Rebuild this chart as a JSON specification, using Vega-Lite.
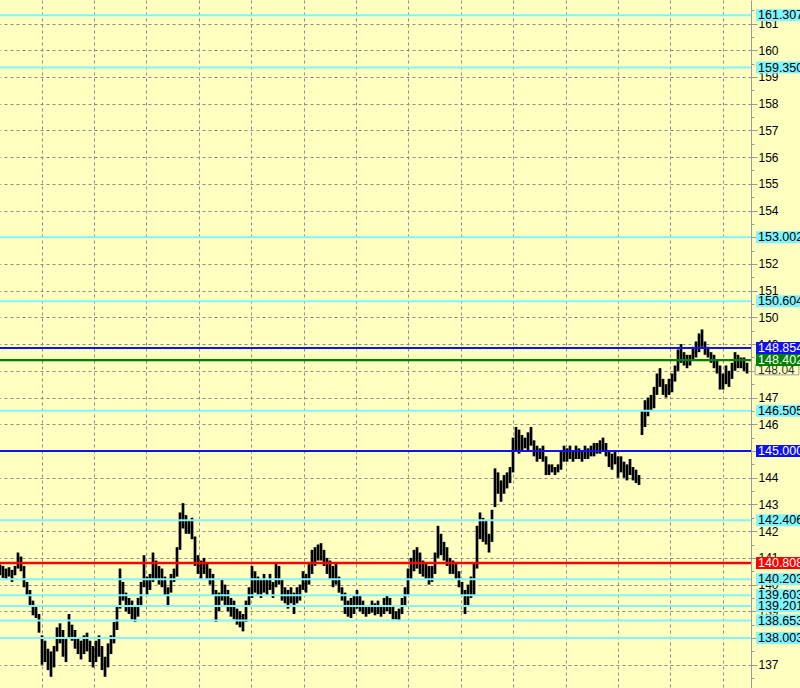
{
  "$schema": "https://vega.github.io/schema/vega-lite/v6.json",
  "autosize": {"type": "none"},
  "width": 751,
  "height": 688,
  "padding": {"left": 0, "top": 0, "right": 49, "bottom": 0},
  "background": "#FFFFC0",
  "config": {"view": {"stroke": null}, "font": "Liberation Sans"},
  "datasets": {
    "bars": [
      {"i":0,"h":140.75,"l":140.35},{"i":1,"h":140.70,"l":140.25},{"i":2,"h":140.60,"l":140.20},{"i":3,"h":140.65,"l":140.30},{"i":4,"h":140.55,"l":140.10},
      {"i":5,"h":140.70,"l":140.35},{"i":6,"h":141.20,"l":140.60},{"i":7,"h":141.05,"l":140.50},{"i":8,"h":140.70,"l":139.90},{"i":9,"h":140.10,"l":139.60},
      {"i":10,"h":139.80,"l":139.20},{"i":11,"h":139.40,"l":138.85},{"i":12,"h":139.20,"l":138.75},{"i":13,"h":138.90,"l":138.20},{"i":14,"h":138.10,"l":137.00},
      {"i":15,"h":137.90,"l":137.10},{"i":16,"h":137.60,"l":136.80},{"i":17,"h":137.50,"l":136.55},{"i":18,"h":137.70,"l":136.90},{"i":19,"h":138.40,"l":137.50},
      {"i":20,"h":138.55,"l":137.80},{"i":21,"h":138.30,"l":137.30},{"i":22,"h":138.00,"l":137.10},{"i":23,"h":138.90,"l":138.00},{"i":24,"h":138.50,"l":137.90},
      {"i":25,"h":138.30,"l":137.60},{"i":26,"h":138.00,"l":137.40},{"i":27,"h":137.90,"l":137.20},{"i":28,"h":138.10,"l":137.40},{"i":29,"h":138.20,"l":137.50},
      {"i":30,"h":137.90,"l":137.10},{"i":31,"h":137.70,"l":136.90},{"i":32,"h":137.90,"l":137.10},{"i":33,"h":138.10,"l":137.30},{"i":34,"h":137.70,"l":136.80},
      {"i":35,"h":137.30,"l":136.55},{"i":36,"h":137.80,"l":136.90},{"i":37,"h":138.10,"l":137.40},{"i":38,"h":138.60,"l":137.80},{"i":39,"h":139.20,"l":138.30},
      {"i":40,"h":140.60,"l":139.10},{"i":41,"h":140.10,"l":139.40},{"i":42,"h":139.70,"l":139.00},{"i":43,"h":139.50,"l":138.90},{"i":44,"h":139.40,"l":138.70},
      {"i":45,"h":139.20,"l":138.60},{"i":46,"h":139.50,"l":138.80},{"i":47,"h":140.10,"l":139.20},{"i":48,"h":141.10,"l":139.90},{"i":49,"h":140.30,"l":139.60},
      {"i":50,"h":140.40,"l":139.80},{"i":51,"h":141.20,"l":140.10},{"i":52,"h":140.90,"l":140.20},{"i":53,"h":140.70,"l":140.00},{"i":54,"h":140.60,"l":139.90},
      {"i":55,"h":140.30,"l":139.60},{"i":56,"h":139.90,"l":139.20},{"i":57,"h":140.40,"l":139.70},{"i":58,"h":140.60,"l":140.10},{"i":59,"h":141.40,"l":140.30},
      {"i":60,"h":142.70,"l":141.30},{"i":61,"h":143.05,"l":142.10},{"i":62,"h":142.60,"l":141.90},{"i":63,"h":142.40,"l":141.90},{"i":64,"h":142.50,"l":141.70},
      {"i":65,"h":141.80,"l":140.70},{"i":66,"h":141.10,"l":140.40},{"i":67,"h":140.90,"l":140.20},{"i":68,"h":141.00,"l":140.40},{"i":69,"h":140.80,"l":140.20},
      {"i":70,"h":140.60,"l":140.00},{"i":71,"h":140.40,"l":139.60},{"i":72,"h":139.80,"l":138.60},{"i":73,"h":139.70,"l":139.00},{"i":74,"h":140.20,"l":139.40},
      {"i":75,"h":140.00,"l":139.20},{"i":76,"h":139.80,"l":139.00},{"i":77,"h":139.50,"l":138.80},{"i":78,"h":139.40,"l":138.70},{"i":79,"h":139.10,"l":138.50},
      {"i":80,"h":139.00,"l":138.40},{"i":81,"h":138.90,"l":138.25},{"i":82,"h":139.40,"l":138.60},{"i":83,"h":139.90,"l":139.20},{"i":84,"h":140.70,"l":139.50},
      {"i":85,"h":140.50,"l":139.70},{"i":86,"h":140.30,"l":139.60},{"i":87,"h":140.20,"l":139.50},{"i":88,"h":140.40,"l":139.70},{"i":89,"h":140.20,"l":139.60},
      {"i":90,"h":140.40,"l":139.80},{"i":91,"h":140.10,"l":139.50},{"i":92,"h":140.80,"l":139.90},{"i":93,"h":140.70,"l":140.00},{"i":94,"h":140.20,"l":139.40},
      {"i":95,"h":139.90,"l":139.30},{"i":96,"h":139.80,"l":139.10},{"i":97,"h":139.90,"l":139.30},{"i":98,"h":139.70,"l":138.90},{"i":99,"h":139.90,"l":139.30},
      {"i":100,"h":140.00,"l":139.40},{"i":101,"h":140.50,"l":139.80},{"i":102,"h":140.40,"l":139.70},{"i":103,"h":140.80,"l":140.00},{"i":104,"h":141.30,"l":140.40},
      {"i":105,"h":141.40,"l":140.70},{"i":106,"h":141.50,"l":140.90},{"i":107,"h":141.55,"l":140.90},{"i":108,"h":141.30,"l":140.70},{"i":109,"h":141.00,"l":140.40},
      {"i":110,"h":140.90,"l":140.20},{"i":111,"h":140.70,"l":139.90},{"i":112,"h":140.80,"l":140.00},{"i":113,"h":140.30,"l":139.70},{"i":114,"h":139.90,"l":139.40},
      {"i":115,"h":139.70,"l":138.90},{"i":116,"h":139.40,"l":138.80},{"i":117,"h":139.50,"l":138.75},{"i":118,"h":139.60,"l":138.90},{"i":119,"h":139.80,"l":139.10},
      {"i":120,"h":139.60,"l":139.00},{"i":121,"h":139.40,"l":138.90},{"i":122,"h":139.20,"l":138.80},{"i":123,"h":139.20,"l":138.90},{"i":124,"h":139.40,"l":138.95},
      {"i":125,"h":139.30,"l":138.85},{"i":126,"h":139.40,"l":138.90},{"i":127,"h":139.20,"l":138.80},{"i":128,"h":139.50,"l":138.90},{"i":129,"h":139.60,"l":139.00},
      {"i":130,"h":139.50,"l":138.90},{"i":131,"h":139.20,"l":138.70},{"i":132,"h":139.00,"l":138.70},{"i":133,"h":139.10,"l":138.68},{"i":134,"h":139.50,"l":138.90},
      {"i":135,"h":139.90,"l":139.20},{"i":136,"h":140.60,"l":139.60},{"i":137,"h":141.00,"l":140.20},{"i":138,"h":141.30,"l":140.50},{"i":139,"h":141.40,"l":140.60},
      {"i":140,"h":141.20,"l":140.40},{"i":141,"h":140.90,"l":140.30},{"i":142,"h":140.80,"l":140.20},{"i":143,"h":140.70,"l":140.00},{"i":144,"h":140.70,"l":140.10},
      {"i":145,"h":141.20,"l":140.40},{"i":146,"h":142.20,"l":141.00},{"i":147,"h":141.90,"l":141.10},{"i":148,"h":141.60,"l":140.90},{"i":149,"h":141.40,"l":140.70},
      {"i":150,"h":141.00,"l":140.40},{"i":151,"h":140.90,"l":140.40},{"i":152,"h":140.80,"l":140.20},{"i":153,"h":140.50,"l":139.90},{"i":154,"h":140.10,"l":139.60},
      {"i":155,"h":139.80,"l":138.90},{"i":156,"h":140.00,"l":139.20},{"i":157,"h":140.30,"l":139.50},{"i":158,"h":140.80,"l":139.60},{"i":159,"h":142.20,"l":140.60},
      {"i":160,"h":142.70,"l":141.70},{"i":161,"h":142.50,"l":141.60},{"i":162,"h":142.40,"l":141.50},{"i":163,"h":141.90,"l":141.20},{"i":164,"h":142.80,"l":141.60},
      {"i":165,"h":144.35,"l":142.90},{"i":166,"h":144.20,"l":143.40},{"i":167,"h":143.90,"l":143.10},{"i":168,"h":144.10,"l":143.40},{"i":169,"h":144.20,"l":143.60},
      {"i":170,"h":144.40,"l":143.80},{"i":171,"h":145.50,"l":144.20},{"i":172,"h":145.90,"l":145.00},{"i":173,"h":145.80,"l":144.90},{"i":174,"h":145.60,"l":145.00},
      {"i":175,"h":145.50,"l":145.10},{"i":176,"h":145.70,"l":145.00},{"i":177,"h":145.90,"l":145.20},{"i":178,"h":145.40,"l":144.80},{"i":179,"h":145.20,"l":144.60},
      {"i":180,"h":145.10,"l":144.70},{"i":181,"h":145.20,"l":144.60},{"i":182,"h":144.80,"l":144.10},{"i":183,"h":144.50,"l":144.10},{"i":184,"h":144.50,"l":144.20},
      {"i":185,"h":144.40,"l":144.10},{"i":186,"h":144.50,"l":144.20},{"i":187,"h":145.00,"l":144.30},{"i":188,"h":145.20,"l":144.60},{"i":189,"h":145.10,"l":144.60},
      {"i":190,"h":145.20,"l":144.70},{"i":191,"h":145.00,"l":144.60},{"i":192,"h":145.20,"l":144.70},{"i":193,"h":145.10,"l":144.70},{"i":194,"h":145.00,"l":144.60},
      {"i":195,"h":145.20,"l":144.70},{"i":196,"h":145.10,"l":144.70},{"i":197,"h":145.20,"l":144.80},{"i":198,"h":145.30,"l":144.80},{"i":199,"h":145.30,"l":144.90},
      {"i":200,"h":145.40,"l":144.90},{"i":201,"h":145.50,"l":145.00},{"i":202,"h":145.30,"l":144.80},{"i":203,"h":145.00,"l":144.40},{"i":204,"h":144.90,"l":144.30},
      {"i":205,"h":145.00,"l":144.50},{"i":206,"h":144.80,"l":144.00},{"i":207,"h":144.80,"l":144.20},{"i":208,"h":144.60,"l":144.00},{"i":209,"h":144.50,"l":143.90},
      {"i":210,"h":144.70,"l":144.10},{"i":211,"h":144.40,"l":143.90},{"i":212,"h":144.30,"l":143.80},{"i":213,"h":144.10,"l":143.73},{"i":214,"h":146.50,"l":145.60},
      {"i":215,"h":146.90,"l":145.90},{"i":216,"h":147.00,"l":146.30},{"i":217,"h":147.10,"l":146.50},{"i":218,"h":147.40,"l":146.60},{"i":219,"h":147.90,"l":147.10},
      {"i":220,"h":148.10,"l":147.40},{"i":221,"h":147.70,"l":147.10},{"i":222,"h":147.50,"l":147.00},{"i":223,"h":147.70,"l":147.10},{"i":224,"h":147.90,"l":147.20},
      {"i":225,"h":148.20,"l":147.60},{"i":226,"h":148.80,"l":148.00},{"i":227,"h":149.00,"l":148.30},{"i":228,"h":148.70,"l":148.20},{"i":229,"h":148.60,"l":148.10},
      {"i":230,"h":148.60,"l":148.20},{"i":231,"h":148.90,"l":148.40},{"i":232,"h":149.10,"l":148.50},{"i":233,"h":149.40,"l":148.70},{"i":234,"h":149.55,"l":148.90},
      {"i":235,"h":149.10,"l":148.60},{"i":236,"h":148.90,"l":148.50},{"i":237,"h":148.70,"l":148.30},{"i":238,"h":148.60,"l":148.10},{"i":239,"h":148.40,"l":147.90},
      {"i":240,"h":148.20,"l":147.30},{"i":241,"h":147.90,"l":147.30},{"i":242,"h":148.20,"l":147.50},{"i":243,"h":148.00,"l":147.40},{"i":244,"h":148.30,"l":147.70},
      {"i":245,"h":148.70,"l":148.00},{"i":246,"h":148.60,"l":148.10},{"i":247,"h":148.50,"l":148.10},{"i":248,"h":148.50,"l":148.00},{"i":249,"h":148.30,"l":147.90}
    ],
    "levels": [
      {"p":138.003,"kind":"cyan"},{"p":138.653,"kind":"cyan"},{"p":139.201,"kind":"cyan"},{"p":139.603,"kind":"cyan"},{"p":140.203,"kind":"cyan"},
      {"p":140.808,"kind":"red"},{"p":142.406,"kind":"cyan"},{"p":145.000,"kind":"blue"},{"p":146.505,"kind":"cyan"},{"p":148.402,"kind":"green"},
      {"p":148.854,"kind":"blue"},{"p":150.604,"kind":"cyan"},{"p":153.002,"kind":"cyan"},{"p":159.350,"kind":"cyan"},{"p":161.307,"kind":"cyan"}
    ],
    "bid": [{"p":148.04}]
  },
  "encoding": {
    "y": {
      "type": "quantitative",
      "scale": {"domain": [136.13, 161.88], "nice": false, "zero": false},
      "axis": {
        "orient": "right", "title": null,
        "values": [136.5,137,137.5,138,138.5,139,139.5,140,140.5,141,141.5,142,142.5,143,143.5,144,144.5,145,145.5,146,146.5,147,147.5,148,148.5,149,149.5,150,150.5,151,151.5,152,152.5,153,153.5,154,154.5,155,155.5,156,156.5,157,157.5,158,158.5,159,159.5,160,160.5,161,161.5],
        "grid": true, "gridColor": "#8c8c8c", "gridDash": [3,3], "gridWidth": 1,
        "gridOpacity": {"condition": {"test": "datum.value % 1 !== 0", "value": 0}, "value": 1},
        "tickSize": {"condition": {"test": "datum.value % 1 !== 0", "value": 3}, "value": 6},
        "tickColor": "#9a9a9a", "domainColor": "#9a9a9a",
        "labelExpr": "datum.value % 1 ? '' : format(datum.value, 'd')",
        "labelFont": "Liberation Sans", "labelFontSize": 12, "labelColor": "#000000",
        "labelPadding": 1, "labelBaseline": "middle", "labelOverlap": false, "labelFlush": false
      }
    }
  },
  "layer": [
    {
      "data": {"name": "bars"},
      "mark": {"type": "rule", "strokeWidth": 2.7, "color": "#000000"},
      "encoding": {
        "x": {
          "field": "i", "type": "quantitative",
          "scale": {"domain": [0, 250.33], "nice": false, "zero": false},
          "axis": {"orient": "bottom", "values": [13.9,31.36,48.82,66.28,83.74,101.2,118.66,136.12,153.58,171.04,188.5,205.96,223.42,240.88],
                   "grid": true, "gridColor": "#8c8c8c", "gridDash": [3,3], "gridWidth": 1,
                   "labels": false, "ticks": false, "domain": false, "title": null}
        },
        "y": {"field": "l", "type": "quantitative"},
        "y2": {"field": "h"}
      }
    },
    {
      "data": {"name": "levels"},
      "mark": {"type": "rule"},
      "encoding": {
        "y": {"field": "p", "type": "quantitative"},
        "color": {"field": "kind", "type": "nominal", "legend": null,
                  "scale": {"domain": ["cyan","blue","green","red"], "range": ["#80F4FF","#1010F0","#008000","#FF0000"]}},
        "strokeWidth": {"field": "kind", "type": "nominal", "legend": null,
                  "scale": {"domain": ["cyan","blue","green","red"], "range": [2, 2.5, 2.5, 3]}}
      }
    },
    {
      "data": {"name": "bid"},
      "transform": [{"calculate": "datum.p - 0.19", "as": "lo"}, {"calculate": "datum.p + 0.19", "as": "hi"}],
      "mark": {"type": "rect", "fill": "#FFFFC0", "stroke": "#A0A0A0", "strokeWidth": 1},
      "encoding": {
        "x": {"datum": 251.7, "type": "quantitative"},
        "x2": {"datum": 266.3},
        "y": {"field": "lo", "type": "quantitative"},
        "y2": {"field": "hi"}
      }
    },
    {
      "data": {"name": "bid"},
      "mark": {"type": "text", "align": "left", "baseline": "middle", "font": "Liberation Sans", "fontSize": 12, "color": "#303030"},
      "encoding": {
        "x": {"datum": 252.67, "type": "quantitative"},
        "y": {"field": "p", "type": "quantitative"},
        "text": {"field": "p", "type": "quantitative", "format": ".2f"}
      }
    },
    {
      "data": {"name": "levels"},
      "transform": [{"calculate": "datum.p - 0.225", "as": "lo"}, {"calculate": "datum.p + 0.225", "as": "hi"}],
      "mark": {"type": "rect"},
      "encoding": {
        "x": {"datum": 252, "type": "quantitative"},
        "x2": {"datum": 268},
        "y": {"field": "lo", "type": "quantitative"},
        "y2": {"field": "hi"},
        "color": {"field": "kind", "type": "nominal", "legend": null}
      }
    },
    {
      "data": {"name": "levels"},
      "mark": {"type": "text", "align": "left", "baseline": "middle", "font": "Liberation Sans", "fontSize": 12.5},
      "encoding": {
        "x": {"datum": 252.67, "type": "quantitative"},
        "y": {"field": "p", "type": "quantitative"},
        "text": {"field": "p", "type": "quantitative", "format": ".3f"},
        "color": {"condition": {"test": "datum.kind === 'cyan'", "value": "#000000"}, "value": "#FFFFFF"}
      }
    }
  ]
}
